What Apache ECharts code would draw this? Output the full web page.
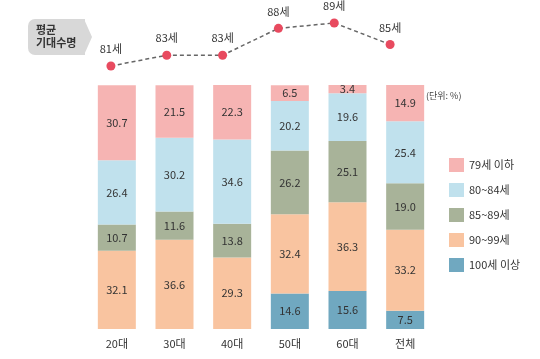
<!DOCTYPE html>
<html><head><meta charset="utf-8">
<script src="https://cdn.jsdelivr.net/npm/echarts@6/dist/echarts.min.js"></script>
<style>html,body{margin:0;padding:0;background:#fff}#c{width:540px;height:359px}</style>
</head><body><div id="c"></div>
<script>
var categories = ['20대','30대','40대','50대','60대','전체'];
var lifeExp = [81, 83, 83, 88, 89, 85];
var s79 = [30.7, 21.5, 22.3, 6.5, 3.4, 14.9];
var s80 = [26.4, 30.2, 34.6, 20.2, 19.6, 25.4];
var s85 = [10.7, 11.6, 13.8, 26.2, 25.1, 19.0];
var s90 = [32.1, 36.6, 29.3, 32.4, 36.3, 33.2];
var s100 = [null, null, null, 14.6, 15.6, 7.5];
var seriesNames = ['79세 이하','80~84세','85~89세','90~99세','100세 이상'];
var colors = ['#f6b4b3','#c0e1ed','#a8b399','#f9c4a0','#70a8c0'];

var font = '"Noto Sans CJK KR", "Noto Sans", sans-serif';
function barSeries(name, data, color) {
  return {
    name: name, type: 'bar', stack: 'a', xAxisIndex: 0, yAxisIndex: 0,
    data: data, barWidth: 38,
    itemStyle: { color: color },
    label: { show: true, position: 'inside', color: '#333', fontSize: 11, fontFamily: font,
      formatter: function (p) { return p.value == null ? '' : p.value.toFixed(1); } }
  };
}
var chart = echarts.init(document.getElementById('c'), null, { renderer: 'canvas' });
chart.setOption({
  animation: false,
  backgroundColor: '#fff',
  textStyle: { fontFamily: font },
  grid: [
    { left: 88, right: 106, top: 85, bottom: 30 },
    { left: 83, right: 122, top: 17.6, height: 53.75 }
  ],
  xAxis: [
    { type: 'category', gridIndex: 0, data: categories,
      axisLine: { show: false }, axisTick: { show: false },
      axisLabel: { color: '#333', fontSize: 11, margin: 9, fontFamily: font } },
    { type: 'category', gridIndex: 1, data: categories, show: false }
  ],
  yAxis: [
    { type: 'value', gridIndex: 0, min: 0, max: 100, show: false },
    { type: 'value', gridIndex: 1, min: 80, max: 90, show: false }
  ],
  legend: {
    orient: 'vertical', left: 444, top: 153,
    itemWidth: 15, itemHeight: 14, itemGap: 11,
    icon: 'rect',
    data: seriesNames,
    textStyle: { color: '#333', fontSize: 11, fontFamily: font }
  },
  graphic: [
    { type: 'rect', shape: { x: 28, y: 19, width: 57, height: 36, r: [7,0,0,7] }, style: { fill: '#d8d8d8' } },
    { type: 'polygon', shape: { points: [[84,19],[92,37],[84,55]] }, style: { fill: '#d8d8d8' } },
    { type: 'text', left: 36, top: 23, style: { text: '평균\n기대수명', fill: '#333', font: 'bold 11px ' + font, lineHeight: 13 } },
    { type: 'text', left: 426, top: 91, style: { text: '(단위: %)', fill: '#444', font: '9px ' + font } }
  ],
  series: [
    barSeries(seriesNames[4], s100, colors[4]),
    barSeries(seriesNames[3], s90, colors[3]),
    barSeries(seriesNames[2], s85, colors[2]),
    barSeries(seriesNames[1], s80, colors[1]),
    barSeries(seriesNames[0], s79, colors[0]),
    {
      type: 'line', xAxisIndex: 1, yAxisIndex: 1, data: lifeExp,
      symbol: 'circle', symbolSize: 9,
      itemStyle: { color: '#e84a5f' },
      lineStyle: { color: '#666', width: 1.5, type: [4,3] },
      label: { show: true, position: 'top', distance: 7, color: '#333', fontSize: 11, fontFamily: font,
        formatter: function (p) { return p.value + '세'; } }
    }
  ]
});
</script></body></html>
